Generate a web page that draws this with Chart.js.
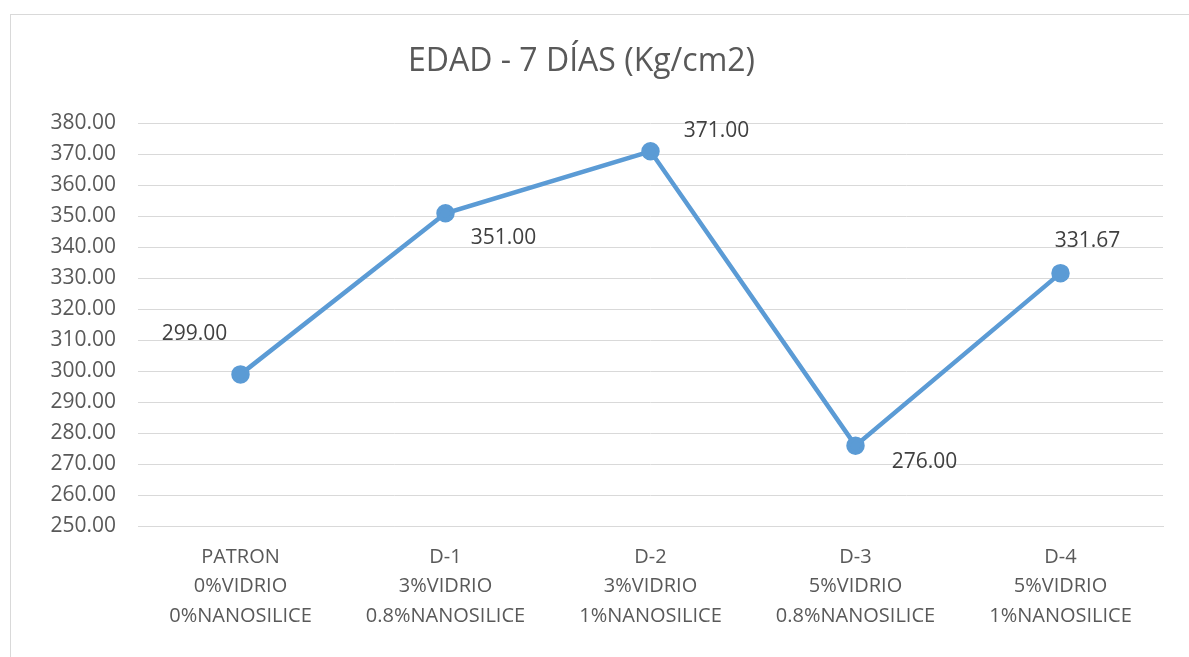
<!DOCTYPE html>
<html>
<head>
<meta charset="utf-8">
<script src="https://cdn.jsdelivr.net/npm/chart.js@4"></script>
<style>
    html, body { margin: 0; padding: 0; background: #ffffff; }
    #frame {
        position: absolute; left: 10px; top: 14px;
        width: 1190px; height: 650px;
        border: 1px solid #d9d9d9;
    }
    #wrap { position: absolute; left: 0; top: 0; width: 1189px; height: 657px; }
</style>
</head>
<body>
<div id="frame"></div>
<div id="wrap"><canvas id="chart"></canvas></div>
<script>
// categories (multi-line labels) and values
const categories = [
    ['PATRON', '0%VIDRIO', '0%NANOSILICE'],
    ['D-1', '3%VIDRIO', '0.8%NANOSILICE'],
    ['D-2', '3%VIDRIO', '1%NANOSILICE'],
    ['D-3', '5%VIDRIO', '0.8%NANOSILICE'],
    ['D-4', '5%VIDRIO', '1%NANOSILICE']
];
const resistance = [299.00, 351.00, 371.00, 276.00, 331.67];
const yMin = 250;
const yMax = 380;
const yStep = 10;

// where each data label sits relative to its point (px)
const labelOffsets = [[-46, -40], [58, 25], [66, -20], [69, 16], [27, -32]];

const FONT = 'Open Sans';

const dataLabels = {
    id: 'dataLabels',
    afterDatasetsDraw(chart) {
        const ctx = chart.ctx;
        const meta = chart.getDatasetMeta(0);
        ctx.save();
        ctx.font = '21px "' + FONT + '"';
        ctx.fillStyle = '#404040';
        ctx.textAlign = 'center';
        ctx.textBaseline = 'middle';
        meta.data.forEach((pt, i) => {
            const off = labelOffsets[i];
            ctx.fillText(resistance[i].toFixed(2), pt.x + off[0], pt.y + off[1]);
        });
        ctx.restore();
    }
};

new Chart(document.getElementById('chart'), {
    type: 'line',
    data: {
        labels: categories,
        datasets: [{
            data: resistance,
            borderColor: '#5B9BD5',
            backgroundColor: '#5B9BD5',
            borderWidth: 4.5,
            pointRadius: 7,
            pointHoverRadius: 7,
            pointBackgroundColor: '#5B9BD5',
            pointBorderColor: '#5B9BD5',
            tension: 0
        }]
    },
    options: {
        responsive: true,
        maintainAspectRatio: false,
        animation: false,
        layout: { padding: { top: 0, right: 26, bottom: 10, left: 0 } },
        plugins: {
            legend: { display: false },
            tooltip: { enabled: false },
            title: {
                display: true,
                text: 'EDAD - 7 DÍAS (Kg/cm2)',
                color: '#595959',
                font: { family: FONT, size: 32, weight: 'normal', lineHeight: 1.2 },
                padding: { top: 43, bottom: 42 }
            }
        },
        scales: {
            x: {
                offset: true,
                grid: { display: false, drawTicks: false },
                border: { display: true, color: '#d9d9d9', width: 1 },
                ticks: {
                    color: '#595959',
                    padding: 16,
                    maxRotation: 0,
                    autoSkip: false,
                    font: { family: FONT, size: 20, lineHeight: 1.48 }
                }
            },
            y: {
                min: yMin,
                max: yMax,
                afterFit(scale) { scale.width = 138; },
                grid: { color: '#d9d9d9', lineWidth: 1, drawTicks: false },
                border: { display: false },
                ticks: {
                    stepSize: yStep,
                    color: '#595959',
                    padding: 22,
                    font: { family: FONT, size: 21 },
                    callback: v => Number(v).toFixed(2)
                }
            }
        }
    },
    plugins: [dataLabels]
});
</script>
</body>
</html>
